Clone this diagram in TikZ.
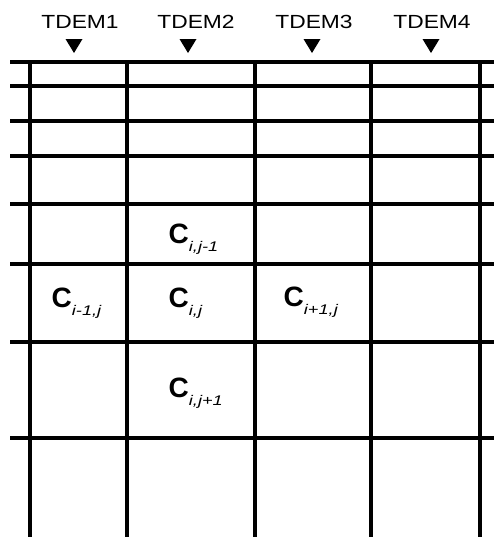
\documentclass[tikz,border=0pt]{standalone}
\usepackage{fontspec}
\setmainfont{Liberation Sans}

\tikzset{
  gridline/.style={line width=3.5pt},
  tdem/.style={anchor=base, inner sep=0pt, font=\fontsize{19}{19}\selectfont},
  marker/.style={fill=black},
  conc/.style={anchor=base west, inner sep=0pt, font=\fontsize{28}{28}\selectfont\bfseries},
}
\newcommand{\cellsub}[1]{\raisebox{-8pt}{\fontsize{14}{14}\selectfont\mdseries\itshape\scalebox{1.3}[1]{#1}}}

\begin{document}
\begin{tikzpicture}[x=1pt, y=-1pt]
  \useasboundingbox (0,0) rectangle (494,538);
  % survey positions
  \node[tdem] (tdem1) at (80,28) {\scalebox{1.2}[1]{TDEM1}};
  \node[tdem] (tdem2) at (196,28) {\scalebox{1.2}[1]{TDEM2}};
  \node[tdem] (tdem3) at (314,28) {\scalebox{1.2}[1]{TDEM3}};
  \node[tdem] (tdem4) at (432,28) {\scalebox{1.2}[1]{TDEM4}};
  \fill[marker] (65.5,39) -- (82.5,39) -- (74,53) -- cycle;
  \fill[marker] (179.5,39) -- (196.5,39) -- (188,53) -- cycle;
  \fill[marker] (303.5,39) -- (320.5,39) -- (312,53) -- cycle;
  \fill[marker] (422.5,39) -- (439.5,39) -- (431,53) -- cycle;
  % layers
  \draw[gridline] (10,62) -- (494,62);
  \draw[gridline] (10,86) -- (494,86);
  \draw[gridline] (10,121) -- (494,121);
  \draw[gridline] (10,156) -- (494,156);
  \draw[gridline] (10,204) -- (494,204);
  \draw[gridline] (10,264) -- (494,264);
  \draw[gridline] (10,342) -- (494,342);
  \draw[gridline] (10,438) -- (494,438);
  % columns
  \draw[gridline] (30,62) -- (30,537);
  \draw[gridline] (127,62) -- (127,537);
  \draw[gridline] (255,62) -- (255,537);
  \draw[gridline] (371,62) -- (371,537);
  \draw[gridline] (480,62) -- (480,537);
  % cells
  \node[conc] (c-ijm) at (168.5,243) {C\cellsub{i,j-1}};
  \node[conc] (c-imj) at (51.5,307) {C\cellsub{i-1,j}};
  \node[conc] (c-ij) at (168.5,307) {C\cellsub{i,j}};
  \node[conc] (c-ipj) at (283.5,306) {C\cellsub{i+1,j}};
  \node[conc] (c-ijp) at (168.5,397) {C\cellsub{i,j+1}};
\end{tikzpicture}
\end{document}
